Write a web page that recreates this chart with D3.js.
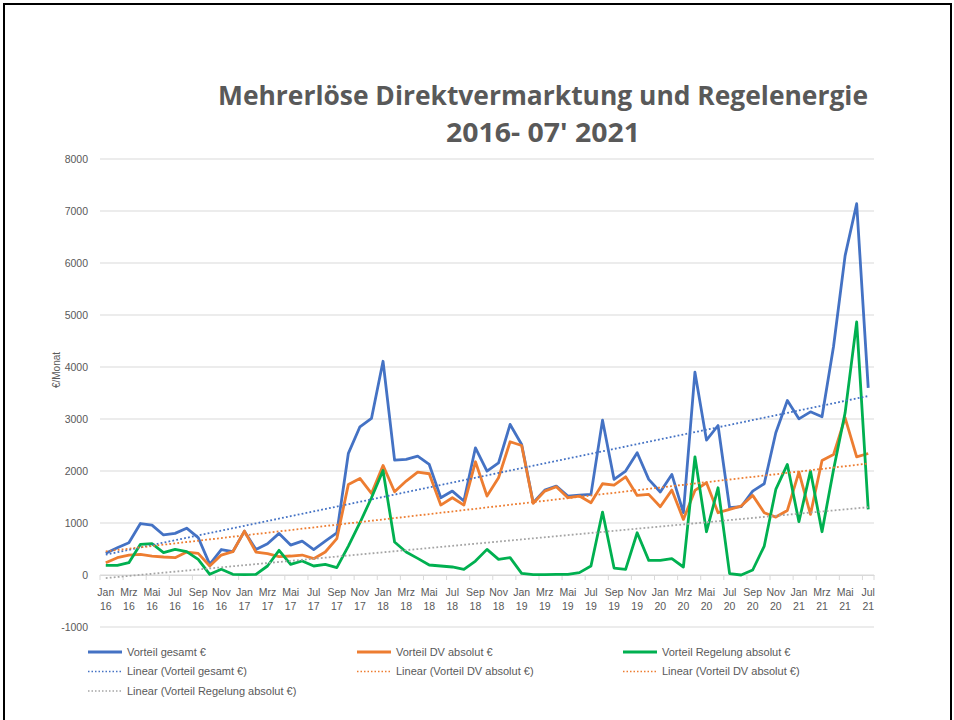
<!DOCTYPE html>
<html>
<head>
<meta charset="utf-8">
<script src="https://cdn.jsdelivr.net/npm/d3@7/dist/d3.min.js"></script>
<style>
  body { margin: 0; background: #fff; }
  text { font-family: "Liberation Sans", Arial, sans-serif; }
</style>
</head>
<body>
<div id="chart"></div>
<script>
// monthly values Jan 2016 - Jul 2021
var categories = [
  "Jan 16","Feb 16","Mrz 16","Apr 16","Mai 16","Jun 16","Jul 16","Aug 16","Sep 16","Okt 16","Nov 16","Dez 16",
  "Jan 17","Feb 17","Mrz 17","Apr 17","Mai 17","Jun 17","Jul 17","Aug 17","Sep 17","Okt 17","Nov 17","Dez 17",
  "Jan 18","Feb 18","Mrz 18","Apr 18","Mai 18","Jun 18","Jul 18","Aug 18","Sep 18","Okt 18","Nov 18","Dez 18",
  "Jan 19","Feb 19","Mrz 19","Apr 19","Mai 19","Jun 19","Jul 19","Aug 19","Sep 19","Okt 19","Nov 19","Dez 19",
  "Jan 20","Feb 20","Mrz 20","Apr 20","Mai 20","Jun 20","Jul 20","Aug 20","Sep 20","Okt 20","Nov 20","Dez 20",
  "Jan 21","Feb 21","Mrz 21","Apr 21","Mai 21","Jun 21","Jul 21"
];

var gesamt = [420,525,620,990,960,770,800,900,720,205, 490,450,840,490,600,800,575,650,490,650,
  810,2340,2850,3010,4110, 2209,2222,2286,2126,1486,1614,1422,2446,1998,2158,
  2895,2510,1390,1633,1710,1518,1537,1550,2978,1838, 1998,2350,1838,1595,
  1934,1198,3900,2594,2875,1294,1313,1614,1755,2735, 3356,3003,3138,3042,4400,6141,7140,3599];

var dvAbsolut = [237,333,384,397,365,346,333,442,416,173, 384,448,845,442,410,352,365,384,314,442,
  698,1742,1857,1569,2107, 1601,1806,1979,1947,1345,1486,1345,2177,1518,1870,
  2562,2491,1377,1614,1697,1486,1518,1390,1755,1729, 1889,1531,1550,1313,
  1633,1069,1627,1774,1198,1262,1326,1531,1198,1114, 1242,1979,1166,2203,2318,3023,2273,2337];

var regelung = [186,186,237,589,602,429,493,448,301,13, 109,13,6,13,173,474,205,269,173,205,
  141,557,1005,1485,2010, 634,442,320,192,173,154,109,269,493,301,
  333,32,6,6,13,13,45,173,1210,134, 109,813,282,282,
  314,154,2273,832,1678,26,0,96,557,1646, 2126,1025,1998,832,2030,3119,4867,1262];

var yTicks = [-1000,0,1000,2000,3000,4000,5000,6000,7000,8000];

var titleLines = ["Mehrerlöse Direktvermarktung und Regelenergie", "2016- 07' 2021"];

var series = [
  {name: "Vorteil gesamt €", values: gesamt, color: "#4472C4"},
  {name: "Vorteil DV absolut €", values: dvAbsolut, color: "#ED7D31"},
  {name: "Vorteil Regelung absolut €", values: regelung, color: "#00B050"}
];

var width = 954, height = 720;
var plot = {left: 100, right: 874, top: 159, bottom: 627};

var svg = d3.select("#chart").append("svg")
    .attr("width", width)
    .attr("height", height);

svg.append("rect")
    .attr("width", width).attr("height", height)
    .attr("fill", "#fff");

// outer frame
svg.append("rect")
    .attr("x", 4).attr("y", 4)
    .attr("width", 947).attr("height", 730)
    .attr("fill", "none")
    .attr("stroke", "#000")
    .attr("stroke-width", 2);

// title
svg.selectAll(".title")
  .data(titleLines)
  .enter()
  .append("text")
    .attr("x", 543)
    .attr("y", function(d, i) { return 105 + i * 37; })
    .attr("text-anchor", "middle")
    .attr("textLength", function(d, i) { return i == 0 ? 650 : 194; })
    .attr("lengthAdjust", "spacingAndGlyphs")
    .style("font-family", "'Open Sans', sans-serif")
    .style("font-weight", "bold")
    .style("font-size", "27px")
    .style("fill", "#595959")
    .text(function(d) { return d; });

var x = d3.scaleBand()
    .domain(categories)
    .range([plot.left, plot.right])
    .padding(0);

var y = d3.scaleLinear()
    .domain([-1000, 8000])
    .range([plot.bottom, plot.top]);

function cx(d) { return x(d) + x.bandwidth() / 2; }

// gridlines
svg.append("g")
  .selectAll("line")
  .data(yTicks)
  .enter()
  .append("line")
    .attr("x1", plot.left)
    .attr("x2", plot.right)
    .attr("y1", function(d) { return y(d); })
    .attr("y2", function(d) { return y(d); })
    .attr("stroke", "#D9D9D9")
    .attr("stroke-width", 1);

// Y axis
var yAxis = svg.append("g")
    .attr("transform", "translate(" + plot.left + ",0)")
    .call(d3.axisLeft(y).tickValues(yTicks).tickFormat(function(d) { return String(d); }).tickSize(0).tickPadding(12));
yAxis.select(".domain").remove();
yAxis.selectAll("text")
    .style("font-size", "10.5px")
    .style("fill", "#595959");

svg.append("text")
    .attr("transform", "translate(60,370) rotate(-90)")
    .attr("text-anchor", "middle")
    .style("font-size", "10px")
    .style("fill", "#595959")
    .text("€/Monat");

// X axis, label every second month
var labelCats = categories.filter(function(d, i) { return i % 2 == 0; });
var xAxis = svg.append("g")
    .attr("transform", "translate(0," + y(0) + ")")
    .call(d3.axisBottom(x).tickValues(labelCats).tickSize(0).tickPadding(0));
xAxis.select(".domain")
    .attr("stroke", "#D9D9D9");
xAxis.selectAll("text").remove();
xAxis.selectAll(".tick").append("text")
    .attr("text-anchor", "middle")
    .style("font-size", "10.5px")
    .style("fill", "#595959")
    .selectAll("tspan")
    .data(function(d) { return d.split(" "); })
    .enter()
    .append("tspan")
      .attr("x", 0)
      .attr("y", function(d, i) { return 21 + i * 13.5; })
      .text(function(d) { return d; });

var tickPos = labelCats.map(function(d) { return x(d); }).concat([plot.right]);
svg.append("g")
  .selectAll("line")
  .data(tickPos)
  .enter()
  .append("line")
    .attr("x1", function(d) { return d; })
    .attr("x2", function(d) { return d; })
    .attr("y1", y(0))
    .attr("y2", y(0) + 5)
    .attr("stroke", "#D9D9D9");

// lines
var line = d3.line()
    .x(function(d, i) { return cx(categories[i]); })
    .y(function(d) { return y(d); });

svg.selectAll(".series")
  .data(series)
  .enter()
  .append("path")
    .attr("d", function(d) { return line(d.values); })
    .attr("fill", "none")
    .attr("stroke", function(d) { return d.color; })
    .attr("stroke-width", 2.8)
    .attr("stroke-linejoin", "round");

// linear trendlines (least squares)
function linearFit(vals) {
  var n = vals.length;
  var mx = d3.mean(vals, function(d, i) { return i; });
  var my = d3.mean(vals);
  var sxy = 0, sxx = 0;
  vals.forEach(function(v, i) { sxy += (i - mx) * (v - my); sxx += (i - mx) * (i - mx); });
  var b = sxy / sxx;
  var a = my - b * mx;
  return [a, a + b * (n - 1)];
}

var trends = [
  {values: gesamt, color: "#4472C4"},
  {values: dvAbsolut, color: "#ED7D31"},
  {values: regelung, color: "#A5A5A5"}
];

svg.selectAll(".trend")
  .data(trends)
  .enter()
  .append("line")
    .attr("x1", cx(categories[0]))
    .attr("x2", cx(categories[categories.length - 1]))
    .attr("y1", function(d) { return y(linearFit(d.values)[0]); })
    .attr("y2", function(d) { return y(linearFit(d.values)[1]); })
    .attr("stroke", function(d) { return d.color; })
    .attr("stroke-width", 1.8)
    .attr("stroke-dasharray", "1.8,2.2");

// legend
var legendItems = [
  {label: "Vorteil gesamt €", color: "#4472C4", dotted: false, col: 0, row: 0},
  {label: "Vorteil DV absolut €", color: "#ED7D31", dotted: false, col: 1, row: 0},
  {label: "Vorteil Regelung absolut €", color: "#00B050", dotted: false, col: 2, row: 0},
  {label: "Linear (Vorteil gesamt €)", color: "#4472C4", dotted: true, col: 0, row: 1},
  {label: "Linear (Vorteil DV absolut €)", color: "#ED7D31", dotted: true, col: 1, row: 1},
  {label: "Linear (Vorteil DV absolut €)", color: "#ED7D31", dotted: true, col: 2, row: 1},
  {label: "Linear (Vorteil Regelung absolut €)", color: "#A5A5A5", dotted: true, col: 0, row: 2}
];
var colX = [88, 357, 623];

var legend = svg.append("g")
  .selectAll("g")
  .data(legendItems)
  .enter()
  .append("g")
    .attr("transform", function(d) { return "translate(" + colX[d.col] + "," + (652 + d.row * 19.5) + ")"; });

legend.append("line")
    .attr("x1", 0).attr("x2", 34)
    .attr("stroke", function(d) { return d.color; })
    .attr("stroke-width", function(d) { return d.dotted ? 1.5 : 2.8; })
    .attr("stroke-dasharray", function(d) { return d.dotted ? "1.5,2" : null; });

legend.append("text")
    .attr("x", 39)
    .attr("dy", "0.35em")
    .style("font-size", "11px")
    .style("fill", "#595959")
    .text(function(d) { return d.label; });
</script>
</body>
</html>
